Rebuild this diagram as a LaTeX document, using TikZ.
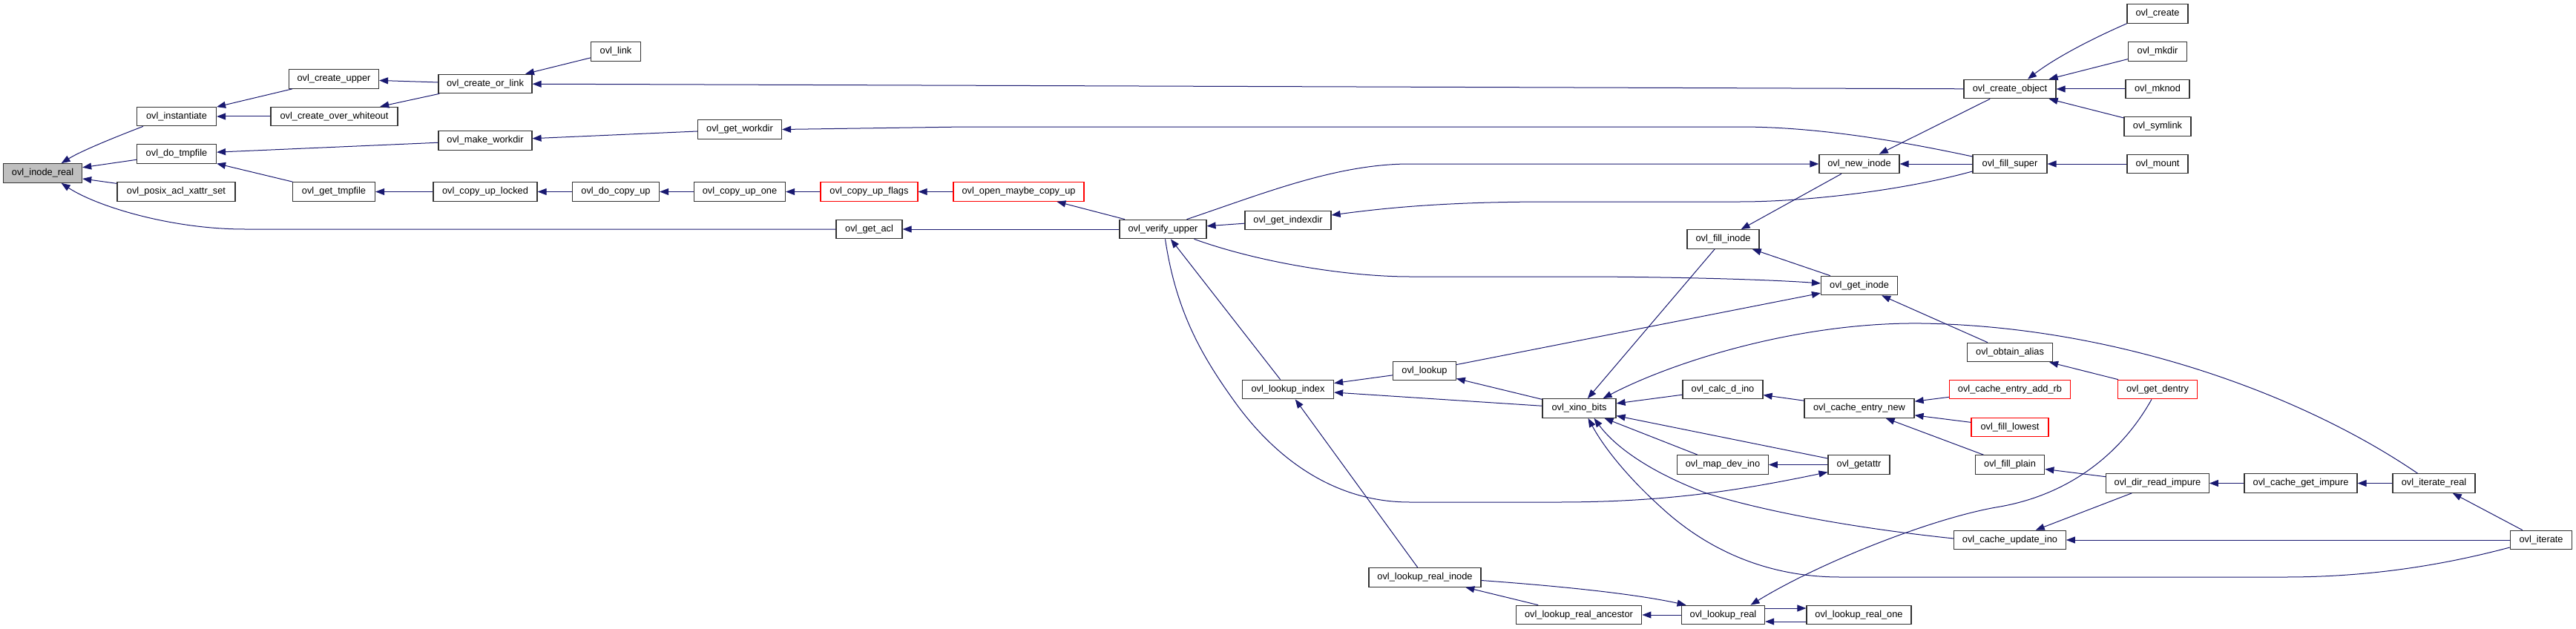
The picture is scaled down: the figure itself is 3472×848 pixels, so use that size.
\documentclass[tikz,border=0pt]{standalone}
\usepackage{fontspec}
\setmainfont{Liberation Sans}
\usetikzlibrary{arrows.meta}
\definecolor{edgeblue}{HTML}{191970}
\definecolor{boxgray}{HTML}{BFBFBF}
\tikzset{
  fn/.style={draw=black!80, line width=1.2pt, fill=white, minimum height=25.5pt, inner sep=1pt, font=\fontsize{12.8}{15}\selectfont, text=black},
  fnred/.style={fn, draw=red},
  fnroot/.style={fn, fill=boxgray},
  edge/.style={draw=edgeblue, line width=1pt, -{Triangle[length=12pt,width=9pt]}}
}
\begin{document}
\begin{tikzpicture}[x=1pt,y=-1pt]
\useasboundingbox (0,0) rectangle (3472,848);
% nodes
\node[fnroot, minimum width=106pt] (inode_real) at (57.6,233.5) {ovl\_inode\_real};
\node[fn, minimum width=107pt] (instantiate) at (238,157) {ovl\_instantiate};
\node[fn, minimum width=107pt] (do_tmpfile) at (238,207.5) {ovl\_do\_tmpfile};
\node[fn, minimum width=159pt] (posix) at (237.5,258.5) {ovl\_posix\_acl\_xattr\_set};
\node[fn, minimum width=121pt] (create_upper) at (450,106.5) {ovl\_create\_upper};
\node[fn, minimum width=171pt] (create_over_whiteout) at (450.5,157) {ovl\_create\_over\_whiteout};
\node[fn, minimum width=111pt] (get_tmpfile) at (450,258.5) {ovl\_get\_tmpfile};
\node[fn, minimum width=126pt] (create_or_link) at (654,113) {ovl\_create\_or\_link};
\node[fn, minimum width=126pt] (make_workdir) at (654,189.5) {ovl\_make\_workdir};
\node[fn, minimum width=140pt] (copy_up_locked) at (654,258.5) {ovl\_copy\_up\_locked};
\node[fn, minimum width=67pt] (ovl_link) at (830,69.5) {ovl\_link};
\node[fn, minimum width=113pt] (get_workdir) at (997,174.5) {ovl\_get\_workdir};
\node[fn, minimum width=117pt] (do_copy_up) at (830,258.5) {ovl\_do\_copy\_up};
\node[fn, minimum width=123pt] (copy_up_one) at (997,258.5) {ovl\_copy\_up\_one};
\node[fnred, minimum width=131pt] (copy_up_flags) at (1171.5,258.5) {ovl\_copy\_up\_flags};
\node[fnred, minimum width=176pt] (open_maybe) at (1373,258.5) {ovl\_open\_maybe\_copy\_up};
\node[fn, minimum width=89pt] (get_acl) at (1171.5,309) {ovl\_get\_acl};
\node[fn, minimum width=117pt] (verify_upper) at (1567.5,309) {ovl\_verify\_upper};
\node[fn, minimum width=116pt] (get_indexdir) at (1736,297) {ovl\_get\_indexdir};
\node[fn, minimum width=124pt] (create_object) at (2709,120) {ovl\_create\_object};
\node[fn, minimum width=108pt] (new_inode) at (2506,221) {ovl\_new\_inode};
\node[fn, minimum width=100pt] (fill_super) at (2709,221) {ovl\_fill\_super};
\node[fn, minimum width=97pt] (fill_inode) at (2322.5,322.5) {ovl\_fill\_inode};
\node[fn, minimum width=103pt] (get_inode) at (2506,385) {ovl\_get\_inode};
\node[fn, minimum width=82pt] (create) at (2908,18.5) {ovl\_create};
\node[fn, minimum width=79pt] (mkdir) at (2908,69.5) {ovl\_mkdir};
\node[fn, minimum width=86pt] (mknod) at (2908,120) {ovl\_mknod};
\node[fn, minimum width=90pt] (symlink) at (2908,170.5) {ovl\_symlink};
\node[fn, minimum width=82pt] (mount) at (2908,221) {ovl\_mount};
\node[fn, minimum width=123pt] (lookup_index) at (1736,525) {ovl\_lookup\_index};
\node[fn, minimum width=84.5pt] (lookup) at (1920,500) {ovl\_lookup};
\node[fn, minimum width=99pt] (xino_bits) at (2128.5,550.5) {ovl\_xino\_bits};
\node[fn, minimum width=151pt] (lookup_real_inode) at (1920.5,778.5) {ovl\_lookup\_real\_inode};
\node[fn, minimum width=169.5pt] (lookup_real_ancestor) at (2128,829) {ovl\_lookup\_real\_ancestor};
\node[fn, minimum width=108pt] (calc_d_ino) at (2322,525) {ovl\_calc\_d\_ino};
\node[fn, minimum width=148pt] (cache_entry_new) at (2506,550.5) {ovl\_cache\_entry\_new};
\node[fn, minimum width=114.5pt] (obtain_alias) at (2709,475) {ovl\_obtain\_alias};
\node[fnred, minimum width=163pt] (cache_entry_add_rb) at (2709,525) {ovl\_cache\_entry\_add\_rb};
\node[fnred, minimum width=104pt] (fill_lowest) at (2709,576) {ovl\_fill\_lowest};
\node[fn, minimum width=122.5pt] (map_dev_ino) at (2322,626.5) {ovl\_map\_dev\_ino};
\node[fn, minimum width=83pt] (getattr) at (2505.5,626.5) {ovl\_getattr};
\node[fn, minimum width=93.5pt] (fill_plain) at (2709,626.5) {ovl\_fill\_plain};
\node[fn, minimum width=150.5pt] (cache_update_ino) at (2709,728) {ovl\_cache\_update\_ino};
\node[fn, minimum width=112pt] (lookup_real) at (2322.5,829) {ovl\_lookup\_real};
\node[fn, minimum width=141pt] (lookup_real_one) at (2505.5,829) {ovl\_lookup\_real\_one};
\node[fnred, minimum width=106.5pt] (get_dentry) at (2908,525) {ovl\_get\_dentry};
\node[fn, minimum width=138.5pt] (dir_read_impure) at (2908,651.5) {ovl\_dir\_read\_impure};
\node[fn, minimum width=152pt] (cache_get_impure) at (3101,651.5) {ovl\_cache\_get\_impure};
\node[fn, minimum width=111pt] (iterate_real) at (3280.5,651.5) {ovl\_iterate\_real};
\node[fn, minimum width=83.5pt] (iterate) at (3425,728) {ovl\_iterate};
% edges
\draw[edge] ([xshift=-45pt]instantiate.south) .. controls (160,183) and (110,203) .. ([xshift=25pt]inode_real.north);
\draw[edge] (do_tmpfile) -- (inode_real);
\draw[edge] (posix) -- (inode_real);
\draw[edge] (get_acl.west) -- (330,309) .. controls (230,309) and (130,278) .. ([xshift=25pt]inode_real.south);
\draw[edge] (create_upper) -- (instantiate);
\draw[edge] (create_over_whiteout) -- (instantiate);
\draw[edge] (make_workdir) -- (do_tmpfile);
\draw[edge] (get_tmpfile) -- (do_tmpfile);
\draw[edge] (create_or_link) -- (create_upper);
\draw[edge] (create_or_link) -- (create_over_whiteout);
\draw[edge] (copy_up_locked) -- (get_tmpfile);
\draw[edge] (ovl_link) -- (create_or_link);
\draw[edge] (create_object) -- (create_or_link);
\draw[edge] (get_workdir) -- (make_workdir);
\draw[edge] ([yshift=10pt]fill_super.west) .. controls (2560,190) and (2450,171) .. (2345,171) -- (1300,171) -- (get_workdir.east);
\draw[edge] (do_copy_up) -- (copy_up_locked);
\draw[edge] (copy_up_one) -- (do_copy_up);
\draw[edge] (copy_up_flags) -- (copy_up_one);
\draw[edge] (open_maybe) -- (copy_up_flags);
\draw[edge] (verify_upper) -- (open_maybe);
\draw[edge] (verify_upper) -- (get_acl);
\draw[edge] (get_indexdir) -- (verify_upper);
\draw[edge] ([yshift=-10pt]fill_super.west) .. controls (2560,258) and (2430,272) .. (2345,272) -- (2090,272) .. controls (1950,272) and (1870,280) .. ([yshift=7pt]get_indexdir.east);
\draw[edge] ([xshift=32pt]verify_upper.north) .. controls (1700,262) and (1800,221) .. (1900,221) -- (new_inode.west);
\draw[edge] (create_object) -- (new_inode);
\draw[edge] (fill_super) -- (new_inode);
\draw[edge] (mount) -- (fill_super);
\draw[edge] (create.south west) .. controls (2820,52) and (2770,78) .. ([xshift=24pt]create_object.north);
\draw[edge] (mkdir) -- (create_object);
\draw[edge] (mknod) -- (create_object);
\draw[edge] (symlink) -- (create_object);
\draw[edge] (new_inode) -- (fill_inode);
\draw[edge] (get_inode) -- (fill_inode);
\draw[edge] ([xshift=42pt]verify_upper.south) .. controls (1700,355) and (1820,373) .. (1900,373) -- (2150,373) .. controls (2300,374) and (2400,378) .. ([yshift=3pt]get_inode.west);
\draw[edge] (lookup) -- (get_inode);
\draw[edge] (obtain_alias) -- (get_inode);
\draw[edge] (fill_inode) -- (xino_bits);
\draw[edge] (lookup_index) -- (verify_upper);
\draw[edge] ([xshift=3pt]verify_upper.south) .. controls (1585,420) and (1620,480) .. (1663,540) .. controls (1720,620) and (1800,677) .. (1900,677) -- (2100,677) .. controls (2250,677) and (2350,660) .. ([yshift=-10pt]getattr.west);
\draw[edge] (lookup) -- (lookup_index);
\draw[edge] (xino_bits) -- (lookup_index);
\draw[edge] (lookup_real_inode) -- (lookup_index);
\draw[edge] (xino_bits) -- (lookup);
\draw[edge] (calc_d_ino) -- (xino_bits);
\draw[edge] (cache_entry_new) -- (calc_d_ino);
\draw[edge] (cache_entry_add_rb) -- (cache_entry_new);
\draw[edge] (fill_lowest) -- (cache_entry_new);
\draw[edge] (fill_plain) -- (cache_entry_new);
\draw[edge] (map_dev_ino) -- (xino_bits);
\draw[edge] (getattr) -- (xino_bits);
\draw[edge] (getattr) -- (map_dev_ino);
\draw[edge] ([yshift=2pt]cache_update_ino.west) .. controls (2500,712) and (2380,690) .. (2300,665) .. controls (2220,635) and (2175,600) .. ([xshift=20pt]xino_bits.south);
\draw[edge] ([yshift=-10pt]iterate.west) .. controls (3300,760) and (3200,778) .. (3080,778) -- (2480,778) .. controls (2380,778) and (2300,740) .. (2240,685) .. controls (2190,640) and (2160,600) .. ([xshift=12pt]xino_bits.south);
\draw[edge] ([xshift=-22pt]iterate_real.north) .. controls (3100,530) and (2850,440) .. (2590,436) .. controls (2420,434) and (2250,490) .. ([xshift=32pt]xino_bits.north);
\draw[edge] ([yshift=-4pt]lookup_real_inode.east) .. controls (2100,790) and (2200,800) .. ([xshift=-50pt]lookup_real.north);
\draw[edge] (lookup_real_ancestor) -- (lookup_real_inode);
\draw[edge] (lookup_real) -- (lookup_real_ancestor);
\draw[edge] ([yshift=9pt]lookup_real.east) -- ([yshift=9pt]lookup_real_one.west);
\draw[edge] ([yshift=-9pt]lookup_real_one.west) -- ([yshift=-9pt]lookup_real.east);
\draw[edge] ([xshift=-8pt]get_dentry.south) .. controls (2860,610) and (2790,668) .. (2690,684) .. controls (2600,700) and (2450,760) .. ([xshift=37pt]lookup_real.north);
\draw[edge] (get_dentry) -- (obtain_alias);
\draw[edge] (dir_read_impure) -- (fill_plain);
\draw[edge] (dir_read_impure) -- (cache_update_ino);
\draw[edge] (iterate) -- (cache_update_ino);
\draw[edge] (cache_get_impure) -- (dir_read_impure);
\draw[edge] (iterate_real) -- (cache_get_impure);
\draw[edge] (iterate) -- (iterate_real);
\end{tikzpicture}
\end{document}
